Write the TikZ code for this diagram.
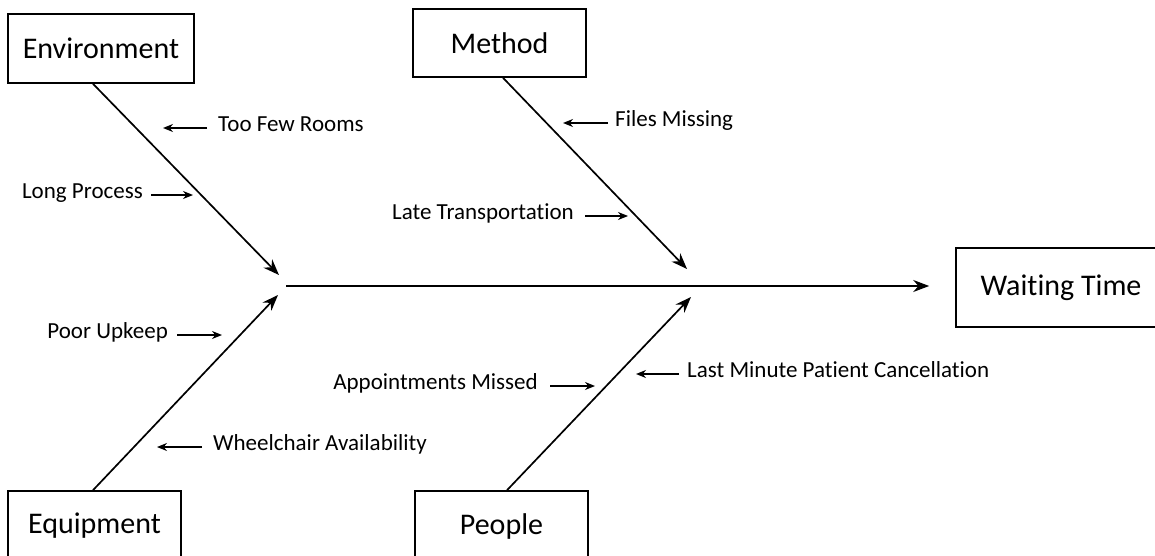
\documentclass[tikz,border=0pt]{standalone}
\usepackage{fontspec}
\setmainfont{Carlito}[Ligatures=NoCommon]
\usetikzlibrary{arrows.meta,calc}
\begin{document}
\begin{tikzpicture}[x=1pt,y=-1pt,
 box/.style={draw,line width=1.6pt,inner sep=0pt,font=\fontsize{30}{36}\selectfont},
 lbl/.style={inner sep=0pt,font=\fontsize{23}{27}\selectfont,text height=0.9em,text depth=0.2em},
 bone/.style={line width=1.7pt,-{Stealth[length=16pt,width=12pt]}},
 sarr/.style={line width=1.4pt,-{Stealth[length=10pt,width=8pt]}}]
\useasboundingbox (0,0) rectangle (1155,556);
\node[box,minimum width=186pt,minimum height=69pt] (env) at (101,48.5) {Environment};
\node[box,minimum width=173pt,minimum height=68pt] (meth) at (499.5,43) {Method};
\node[box,minimum width=173pt,minimum height=70pt] (equip) at (94.5,526) {Equipment};
\node[box,minimum width=173pt,minimum height=70pt] (peop) at (501.5,526) {People};
\node[box,minimum width=210pt,minimum height=79pt] (wait) at (1061,287.5) {Waiting Time};
\coordinate (envT) at (279,275);
\coordinate (methT) at (687,269);
\coordinate (equipT) at (278,295);
\coordinate (peopT) at (691,297);
\coordinate (spS) at (286,286);
\draw[bone] ([xshift=-8pt]env.south) -- (envT);
\draw[bone] ([xshift=3.5pt]meth.south) -- (methT);
\draw[bone] ([xshift=-1.5pt]equip.north) -- (equipT);
\draw[bone] ([xshift=5.5pt]peop.north) -- (peopT);
\draw[bone,shorten >=26pt] (spS) -- (spS -| wait.west);
\node[lbl,anchor=west] (tfr) at (218,128) {Too Few Rooms};
\draw[sarr] ([xshift=-11pt]tfr.west) -- ++(-44,0);
\node[lbl,anchor=east] (lp) at (143,195) {Long Process};
\draw[sarr] ([xshift=8pt]lp.east) -- ++(42,0);
\node[lbl,anchor=west] (fm) at (615,123) {Files Missing};
\draw[sarr] ([xshift=-7pt]fm.west) -- ++(-45,0);
\node[lbl,anchor=east] (lt) at (574,216) {Late Transportation};
\draw[sarr] ([xshift=11pt]lt.east) -- ++(43,0);
\node[lbl,anchor=east] (pu) at (168,335) {Poor Upkeep};
\draw[sarr] ([xshift=9pt]pu.east) -- ++(45,0);
\node[lbl,anchor=west] (wa) at (213,447) {Wheelchair Availability};
\draw[sarr] ([xshift=-11pt]wa.west) -- ++(-45,0);
\node[lbl,anchor=east] (am) at (538,386) {Appointments Missed};
\draw[sarr] ([xshift=12pt]am.east) -- ++(45,0);
\node[lbl,anchor=west] (lm) at (687,374) {Last Minute Patient Cancellation};
\draw[sarr] ([xshift=-8pt]lm.west) -- ++(-43,0);
\end{tikzpicture}
\end{document}
